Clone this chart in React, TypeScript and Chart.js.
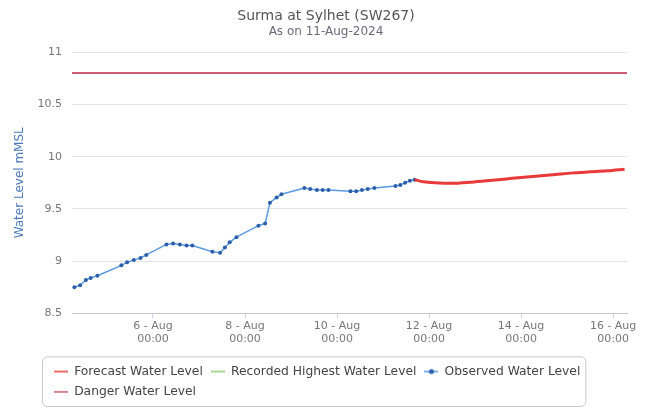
import React, { useEffect, useRef } from "react";
import { Chart, registerables } from "chart.js";

Chart.register(...registerables);

const TITLE = "Surma at Sylhet (SW267)";
const SUBTITLE = "As on 11-Aug-2024";
const Y_TITLE = "Water Level mMSL";
const SERIES_NAMES = [
  "Forecast Water Level",
  "Recorded Highest Water Level",
  "Observed Water Level",
  "Danger Water Level",
];

const OBS_TIMES = [
  "2024-08-04T07:00", "2024-08-04T10:00", "2024-08-04T13:00", "2024-08-04T15:30", "2024-08-04T19:00",
  "2024-08-05T07:30", "2024-08-05T10:30", "2024-08-05T14:00", "2024-08-05T17:30", "2024-08-05T20:30",
  "2024-08-06T07:00", "2024-08-06T10:30", "2024-08-06T14:00", "2024-08-06T17:30", "2024-08-06T20:30",
  "2024-08-07T07:00", "2024-08-07T11:00", "2024-08-07T13:30", "2024-08-07T16:00", "2024-08-07T19:30",
  "2024-08-08T07:00", "2024-08-08T10:30", "2024-08-08T13:00", "2024-08-08T16:30", "2024-08-08T19:00",
  "2024-08-09T07:00", "2024-08-09T10:00", "2024-08-09T13:30", "2024-08-09T16:30", "2024-08-09T19:30",
  "2024-08-10T07:00", "2024-08-10T10:00", "2024-08-10T13:00", "2024-08-10T16:00", "2024-08-10T19:30",
  "2024-08-11T06:30", "2024-08-11T09:00", "2024-08-11T11:30", "2024-08-11T14:00", "2024-08-11T16:30",
];
const OBS_VALUES = [
  8.75, 8.77, 8.82, 8.84, 8.86,
  8.96, 8.99, 9.01, 9.03, 9.06,
  9.16, 9.17, 9.16, 9.15, 9.15,
  9.09, 9.08, 9.13, 9.18, 9.23,
  9.34, 9.36, 9.56, 9.61, 9.64,
  9.70, 9.69, 9.68, 9.68, 9.68,
  9.67, 9.67, 9.68, 9.69, 9.70,
  9.72, 9.73, 9.75, 9.77, 9.78,
];

const FC_TIMES = [
  "2024-08-11T16:30", "2024-08-11T21:00", "2024-08-12T03:00", "2024-08-12T12:00",
  "2024-08-12T21:00", "2024-08-13T06:00", "2024-08-13T15:00", "2024-08-14T00:00",
  "2024-08-14T09:00", "2024-08-14T18:00", "2024-08-15T03:00", "2024-08-15T12:00",
  "2024-08-15T21:00", "2024-08-16T06:00",
];
const FC_VALUES = [
  9.78, 9.76, 9.75, 9.745,
  9.755, 9.77, 9.785, 9.8,
  9.815, 9.83, 9.845, 9.855,
  9.865, 9.88,
];

const DANGER_LEVEL = 10.8;
const X_MIN = "2024-08-04T05:45";
const X_MAX = "2024-08-16T07:15";
const X_TICKS = [
  "2024-08-06T00:00", "2024-08-08T00:00", "2024-08-10T00:00",
  "2024-08-12T00:00", "2024-08-14T00:00", "2024-08-16T00:00",
];
const Y_MIN = 8.5;
const Y_MAX = 11;
const Y_STEP = 0.5;
const MONTHS = ["Jan", "Feb", "Mar", "Apr", "May", "Jun", "Jul", "Aug", "Sep", "Oct", "Nov", "Dec"];

const COLORS = {
  forecast: "#e83a3a",
  highest: "#8cc870",
  observed: "#5a9ae0",
  observedPoint: "#2d5fa8",
  danger: "#cc5a72",
};

const t = (s: string) => Date.parse(s + ":00Z");
const pad2 = (n: number) => (n < 10 ? "0" + n : "" + n);

function legendIcon(color: string, marker?: string) {
  const c = document.createElement("canvas");
  c.width = 14;
  c.height = 8;
  const ctx = c.getContext("2d")!;
  ctx.strokeStyle = color;
  ctx.lineWidth = 1.5;
  ctx.beginPath();
  ctx.moveTo(0, 4);
  ctx.lineTo(14, 4);
  ctx.stroke();
  if (marker) {
    ctx.fillStyle = marker;
    ctx.beginPath();
    ctx.arc(7, 4, 2.5, 0, Math.PI * 2);
    ctx.fill();
  }
  return c;
}

const layoutTweaks = {
  id: "layoutTweaks",
  afterLayout(chart: any) {
    const l = chart.legend;
    if (l) {
      l.left += 46;
      l.right += 46;
    }
    (chart.boxes || []).forEach((b: any) => {
      const txt = b && b.options && b.options.text;
      if (b !== l && (txt === TITLE || txt === SUBTITLE)) {
        b.left += 12.5;
        b.right += 12.5;
      }
    });
  },
  afterDraw(chart: any) {
    const l = chart.legend;
    if (!l || !l.legendHitBoxes || !l.legendHitBoxes.length) return;
    let x0 = Infinity, x1 = -Infinity, y0 = Infinity, y1 = -Infinity;
    l.legendHitBoxes.forEach((h: any) => {
      x0 = Math.min(x0, h.left);
      x1 = Math.max(x1, h.left + h.width);
      y0 = Math.min(y0, h.top);
      y1 = Math.max(y1, h.top + h.height);
    });
    const ctx = chart.ctx;
    const bx = x0 - 11.5, by = y0 - 8.5, bw = x1 - x0 + 17, bh = y1 - y0 + 17;
    ctx.save();
    ctx.strokeStyle = "#c8c8c8";
    ctx.lineWidth = 1;
    ctx.beginPath();
    (ctx as any).roundRect(bx, by, bw, bh, 5);
    ctx.stroke();
    ctx.restore();
  },
};

export default function App() {
  const ref = useRef<HTMLCanvasElement>(null);

  useEffect(() => {
    document.body.style.margin = "0";
    Chart.defaults.font.family = "'DejaVu Sans', sans-serif";
    const icons = [
      legendIcon(COLORS.forecast),
      legendIcon(COLORS.highest),
      legendIcon(COLORS.observed, COLORS.observedPoint),
      legendIcon(COLORS.danger),
    ];
    const chart = new Chart(ref.current!, {
      type: "line",
      data: {
        datasets: [
          {
            label: SERIES_NAMES[0],
            data: FC_TIMES.map((s, i) => ({ x: t(s), y: FC_VALUES[i] })),
            borderColor: COLORS.forecast,
            backgroundColor: COLORS.forecast,
            borderWidth: 3,
            pointRadius: 0,
            tension: 0.3,
          },
          {
            label: SERIES_NAMES[1],
            data: [],
            borderColor: COLORS.highest,
            backgroundColor: COLORS.highest,
            borderWidth: 2,
            pointRadius: 0,
          },
          {
            label: SERIES_NAMES[2],
            data: OBS_TIMES.map((s, i) => ({ x: t(s), y: OBS_VALUES[i] })),
            borderColor: COLORS.observed,
            backgroundColor: COLORS.observedPoint,
            borderWidth: 1.5,
            pointRadius: 2,
            pointBorderWidth: 0,
            pointBackgroundColor: COLORS.observedPoint,
          },
          {
            label: SERIES_NAMES[3],
            data: [
              { x: t(X_MIN), y: DANGER_LEVEL },
              { x: t(X_MAX), y: DANGER_LEVEL },
            ],
            borderColor: COLORS.danger,
            backgroundColor: COLORS.danger,
            borderWidth: 2,
            pointRadius: 0,
          },
        ],
      },
      options: {
        animation: false,
        responsive: true,
        maintainAspectRatio: false,
        layout: { padding: { left: 0, right: 25, top: 0, bottom: 4 } },
        plugins: {
          title: {
            display: true,
            text: TITLE,
            color: "#555",
            font: { size: 14, weight: "normal" },
            padding: { top: 8, bottom: 0 },
          },
          subtitle: {
            display: true,
            text: SUBTITLE,
            color: "#6a6a7a",
            font: { size: 12, weight: "normal" },
            padding: { top: 0, bottom: 13 },
          },
          legend: {
            position: "bottom",
            align: "start",
            labels: {
              color: "#444",
              font: { size: 12.3 },
              padding: 8,
              usePointStyle: true,
              pointStyleWidth: 14,
              generateLabels: (ch: any) => {
                const items = (Chart.defaults.plugins.legend.labels as any).generateLabels(ch);
                return items.map((it: any, i: number) => ({ ...it, pointStyle: icons[i] }));
              },
            },
          },
          tooltip: { enabled: false },
        },
        scales: {
          x: {
            type: "linear",
            min: t(X_MIN),
            max: t(X_MAX),
            afterBuildTicks: (scale: any) => {
              scale.ticks = X_TICKS.map((s) => ({ value: t(s) }));
            },
            afterFit: (scale: any) => {
              scale.height = 44;
            },
            ticks: {
              autoSkip: false,
              maxRotation: 0,
              color: "#777",
              font: { size: 11 },
              padding: 1,
              callback: (v: any) => {
                const d = new Date(Number(v));
                return [
                  `${d.getUTCDate()} - ${MONTHS[d.getUTCMonth()]}`,
                  `${pad2(d.getUTCHours())}:${pad2(d.getUTCMinutes())}`,
                ];
              },
            },
            grid: {
              drawOnChartArea: false,
              drawTicks: true,
              tickLength: 5,
              color: "#ccd6eb",
            },
            border: { color: "#c8c8c8" },
          },
          y: {
            min: Y_MIN,
            max: Y_MAX,
            afterFit: (scale: any) => {
              scale.width = 72;
            },
            ticks: {
              stepSize: Y_STEP,
              color: "#777",
              font: { size: 11 },
              padding: 10,
              callback: (v: any) => String(Math.round(Number(v) * 10) / 10),
            },
            grid: { color: "#e3e3e3", drawTicks: false },
            border: { display: false },
            title: {
              display: true,
              text: Y_TITLE,
              color: "#4d7ab8",
              font: { size: 12 },
              padding: { top: 13, bottom: 0 },
            },
          },
        },
      },
      plugins: [layoutTweaks],
    } as any);
    return () => chart.destroy();
  }, []);

  return (
    <div style={{ position: "relative", width: 652, height: 412 }}>
      <canvas ref={ref} />
    </div>
  );
}
